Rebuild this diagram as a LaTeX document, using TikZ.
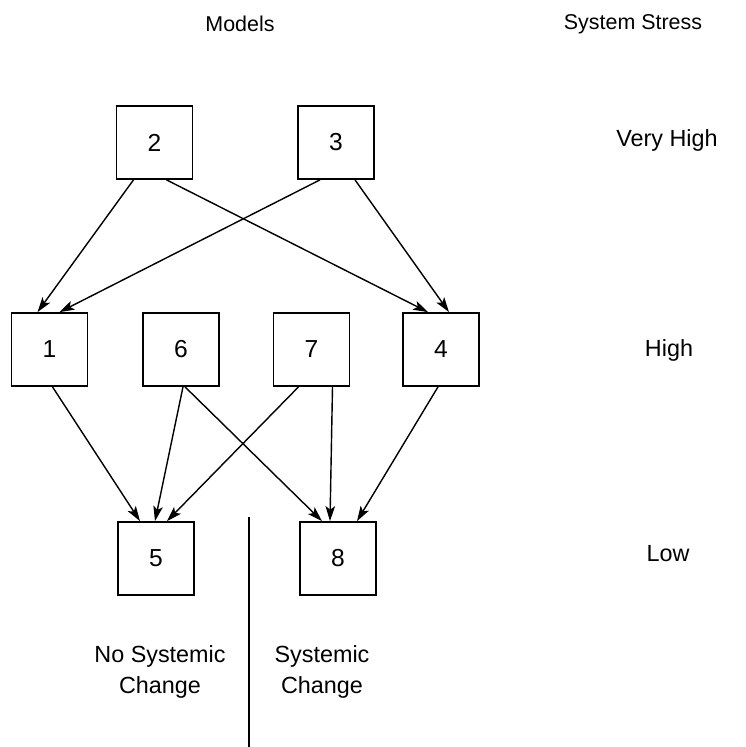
\documentclass[tikz,border=0pt]{standalone}
\usepackage{fontspec}
\setmainfont{Liberation Sans}
\usetikzlibrary{calc,arrows.meta}
\tikzset{
	model/.style={draw, line width=1pt, minimum width=1.52cm, minimum height=1.46cm, inner sep=0pt, font=\fontsize{14}{16}\selectfont},
	header/.style={font=\fontsize{12.2}{14}\selectfont},
	stress/.style={font=\fontsize{13.3}{17.5}\selectfont, align=center},
	link/.style={-{Stealth[length=3mm, width=1.9mm, inset=0.7mm]}, line width=0.8pt}
}

\begin{document}
\begin{tikzpicture}[x=0.02cm, y=-0.02cm]
		%%%%% START %%%%%
		\useasboundingbox (0, 0) rectangle (745, 747);
		
		\node[header] (models) at (240, 24) {Models};
		\node[header] (sys) at (633, 24) {System Stress};
		\node[stress] (vhigh) at (667, 140) {Very High};
		\node[stress] (high) at (669, 350) {High};
		\node[stress] (low) at (668, 554) {Low};
		
		\node[model] (b2) at (154.5, 142.5) {2};
		\node[model] (b3) at (336, 142.5) {3};
		
		\node[model] (b1) at (49.5, 349.5) {1};
		\node[model] (b6) at (181, 349.5) {6};
		\node[model] (b7) at (311.5, 349.5) {7};
		\node[model] (b4) at (441, 349.5) {4};
		
		\node[model] (b5) at (156, 558.5) {5};
		\node[model] (b8) at (338, 558.5) {8};
		
		\draw[link] ($(b2.south)+(-21, 0)$) -- ($(b1.north)+(-12, 0)$);
		\draw[link] ($(b2.south)+(12, 0)$) -- ($(b4.north)+(-13, 0)$);
		\draw[link] ($(b3.south)+(-16, 0)$) -- ($(b1.north)+(10, 0)$);
		\draw[link] ($(b3.south)+(19, 0)$) -- ($(b4.north)+(8, 0)$);
		
		\draw[link] ($(b1.south)+(3, 0)$) -- ($(b5.north)+(-16, 0)$);
		\draw[link] ($(b6.south)+(2, 0)$) -- ($(b5.north)+(-1, 0)$);
		\draw[link] ($(b6.south)+(4, 0)$) -- ($(b8.north)+(-16, 0)$);
		\draw[link] ($(b7.south)+(-13, 0)$) -- ($(b5.north)+(11, 0)$);
		\draw[link] ($(b7.south)+(21, 0)$) -- ($(b8.north)+(-8, 0)$);
		\draw[link] ($(b4.south)+(-3, 0)$) -- ($(b8.north)+(19, 0)$);
		
		\coordinate (divtop) at (249, 517);
		\coordinate (divbot) at (249, 747);
		\draw[line width=0.8pt] (divtop) -- (divbot);
		
		\node[stress] (nochange) at (160, 672) {No Systemic\\Change};
		\node[stress] (change) at (322, 672) {Systemic\\Change};
		%%%%% END %%%%%
\end{tikzpicture}
\end{document}
